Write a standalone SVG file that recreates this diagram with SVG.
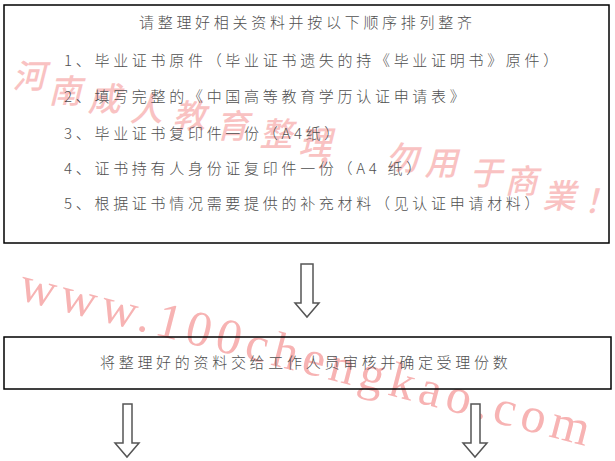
<svg xmlns="http://www.w3.org/2000/svg" width="615" height="461" viewBox="0 0 615 461">
<style>
.box{fill:none;stroke:#000;stroke-width:1.5}
.t{font-family:"Noto Sans CJK SC","Noto Sans CJK JP",sans-serif;font-size:15px;font-weight:300;fill:#505050;letter-spacing:3.7px}
.arr{fill:#fff;stroke:#555;stroke-width:1.5;stroke-linejoin:miter}
.wm1{font-family:"Noto Sans CJK SC",sans-serif;font-size:33px;font-weight:500;font-style:italic;fill:#f9c2c2;text-anchor:middle}
.wm2{font-family:"Liberation Serif","DejaVu Serif",serif;font-size:50px;fill:#f7b3b3;letter-spacing:5.8px}
</style>
<rect width="615" height="461" fill="#fff"/>
<g id="watermark">
<text class="wm1" x="29 65 104 146 189 232 276 315 331 402 441 486 521 559 600" y="88 103 111 121 128 138 146 155 165 170 175 185 193 208 213">河南成人教育整理，勿用于商業！</text>
<text class="wm2" transform="translate(17,299) rotate(14.5)">www.100chengkao.com</text>
</g>
<g id="node1">
<rect class="box" x="4" y="5" width="605" height="238"/>
<text class="t" x="139" y="28">请整理好相关资料并按以下顺序排列整齐</text>
<text class="t" x="64" y="66">1、毕业证书原件（毕业证书遗失的持《毕业证明书》原件）</text>
<text class="t" x="64" y="102">2、填写完整的《中国高等教育学历认证申请表》</text>
<text class="t" x="64" y="138.5">3、毕业证书复印件一份（A4纸）</text>
<text class="t" x="64" y="173.5">4、证书持有人身份证复印件一份（A4 纸）</text>
<text class="t" x="64" y="209">5、根据证书情况需要提供的补充材料（见认证申请材料）</text>
</g>
<g id="node2">
<rect class="box" x="4" y="337" width="607" height="52"/>
<text class="t" x="100" y="367.5">将整理好的资料交给工作人员审核并确定受理份数</text>
</g>
<g id="connectors">
<polygon class="arr" points="301,264 313,264 313,303 319,303 307,317 295,303 301,303"/>
<polygon class="arr" points="123,404 132,404 132,443 139,443 127,457 115,443 123,443"/>
<polygon class="arr" points="471,404 480,404 480,443 487,443 475,457 463,443 471,443"/>
</g>
</svg>
